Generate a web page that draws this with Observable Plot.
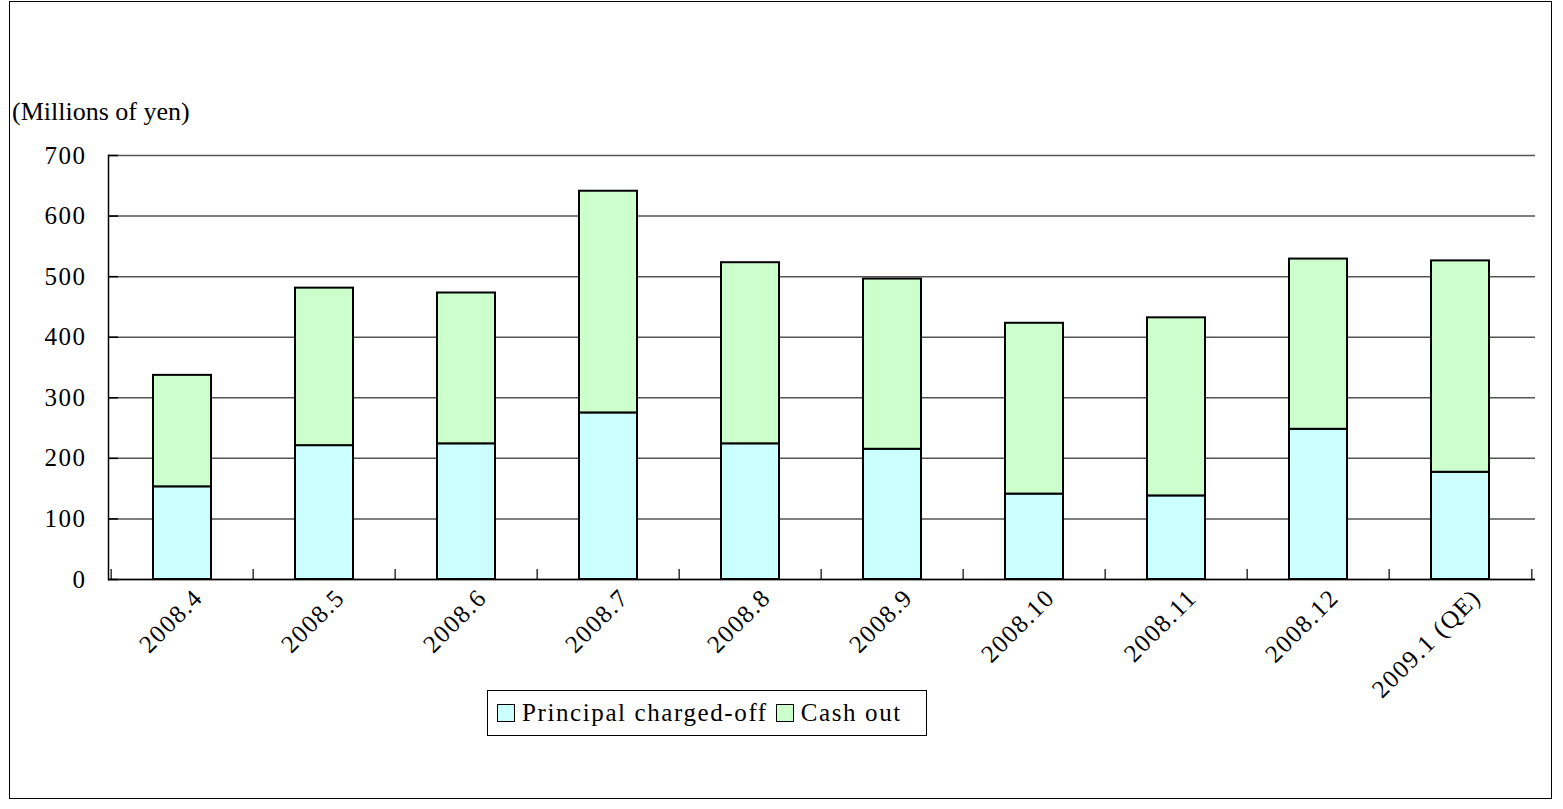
<!DOCTYPE html>
<html><head><meta charset="utf-8">
<script src="https://cdn.jsdelivr.net/npm/d3@7"></script>
<script src="https://cdn.jsdelivr.net/npm/@observablehq/plot@0.6"></script>
<style>
body{margin:0;background:#fff;width:1563px;height:809px;overflow:hidden;position:relative;font-family:"Liberation Serif",serif;color:#000;}
#frame{position:absolute;left:9px;top:1px;width:1543px;height:798px;border:1px solid #000;box-sizing:border-box;}
#unit{position:absolute;left:12px;top:97px;font-size:26px;white-space:nowrap;}
#chart{position:absolute;left:0;top:0;}
#chart svg text{letter-spacing:1.5px;}
#legend{position:absolute;left:487px;top:690px;width:440px;height:46px;border:1px solid #000;box-sizing:border-box;display:flex;align-items:center;padding-left:9px;font-size:25px;letter-spacing:1.6px;white-space:nowrap;}
.sw{display:inline-block;width:18px;height:18px;border:1.5px solid #000;box-sizing:border-box;margin-right:7px;}
.item{display:flex;align-items:center;margin-right:8px;}
</style></head><body>
<div id="frame"></div>
<div id="unit">(Millions of yen)</div>
<div id="chart"></div>
<div id="legend"></div>
<script>
const months = ["2008.4","2008.5","2008.6","2008.7","2008.8","2008.9","2008.10","2008.11","2008.12","2009.1 (QE)"];
const principal = [153,221,224,275,224,215,141,138,248,177];
const cashOut = [184,260,249,366,299,281,282,294,281,349];
const seriesNames = ["Principal charged-off","Cash out"];
const seriesColors = ["#CCFFFF","#CCFFCC"];
const yTicks = [0,100,200,300,400,500,600,700];

const rows = [];
months.forEach((m,i)=>{
  rows.push({month:m, series:seriesNames[0], value:principal[i]});
  rows.push({month:m, series:seriesNames[1], value:cashOut[i]});
});

const W = 1563, H = 809, ML = 108, MR = 28, MT = 155, MB = 230;
const step = (W - ML - MR) / months.length;

const chart = Plot.plot({
  width: W, height: H,
  marginLeft: ML, marginRight: MR, marginTop: MT, marginBottom: MB,
  x: {domain: months, paddingInner: 0.59, paddingOuter: 0.295, label: null},
  y: {domain: [0, 700], label: null},
  color: {domain: seriesNames, range: seriesColors},
  style: {fontFamily: "Liberation Serif", fontSize: "25px", color: "#000", background: "transparent"},
  marks: [
    Plot.gridY(yTicks, {stroke: "#555", strokeOpacity: 1, strokeWidth: 1.5}),
    Plot.barY(rows, {x: "month", y: "value", fill: "series", stroke: "#000", strokeWidth: 2}),
    Plot.ruleY([0], {stroke: "#000", strokeWidth: 1.5}),
    Plot.frame({anchor: "left", stroke: "#000", strokeWidth: 1.5}),
    Plot.axisY(yTicks, {tickSize: 0, tickPadding: 22, fontSize: 25}),
    Plot.axisY(yTicks, {tickSize: -10, tickFormat: () => "", stroke: "#000", strokeWidth: 1.5}),
    Plot.axisX(months, {tickSize: -10, tickFormat: () => "", dx: -step/2, stroke: "#000", strokeWidth: 1.2}),
    Plot.axisX([months[months.length-1]], {tickSize: -10, tickFormat: () => "", dx: step/2, stroke: "#000", strokeWidth: 1.2}),
    Plot.axisX(months, {tickSize: 0, tickRotate: -45, tickPadding: 14, dx: 16, fontSize: 25})
  ]
});
document.getElementById("chart").appendChild(chart);

const leg = document.getElementById("legend");
seriesNames.forEach((s,i)=>{
  const it = document.createElement("span");
  it.className = "item";
  const sw = document.createElement("span");
  sw.className = "sw";
  sw.style.background = seriesColors[i];
  it.appendChild(sw);
  it.appendChild(document.createTextNode(s));
  leg.appendChild(it);
});
</script>
</body></html>
